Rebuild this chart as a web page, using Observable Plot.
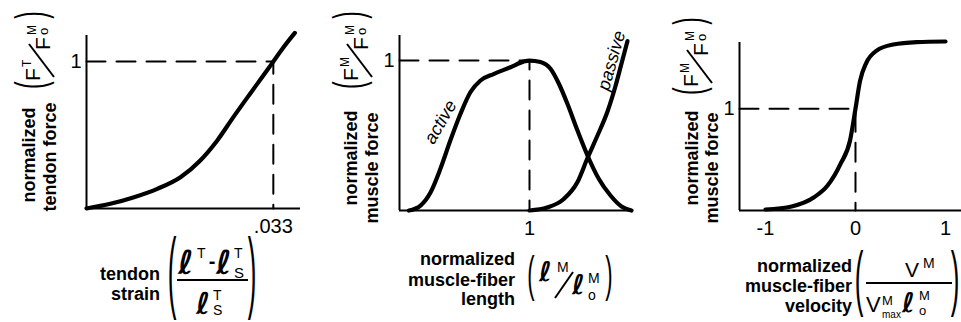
<!DOCTYPE html>
<html>
<head>
<meta charset="utf-8">
<script src="https://cdn.jsdelivr.net/npm/d3@7"></script>
<script src="https://cdn.jsdelivr.net/npm/@observablehq/plot@0.6"></script>
<style>
  body { margin: 0; background: #fff; }
  #fig { position: relative; width: 961px; height: 322px; overflow: hidden; }
  #fig svg { position: absolute; left: 0; top: 0; }
</style>
</head>
<body>
<div id="fig"></div>
<script>
// ---- Tendon force vs. tendon strain ----
const tendonStrain = [0, 0.0042, 0.0084, 0.0125, 0.0166, 0.0201, 0.0231, 0.026, 0.0289, 0.0319, 0.033, 0.0348, 0.0368];
const tendonForce  = [0, 0.032, 0.077, 0.134, 0.213, 0.327, 0.463, 0.625, 0.781, 0.94, 1.0, 1.097, 1.195];
const strainTicks = [0.033];
const strainTickLabels = [".033"];
const tendonForceTicks = [1];

// ---- Muscle force vs. normalized fiber length ----
const activeLength = [0.397, 0.455, 0.505, 0.555, 0.605, 0.655, 0.705, 0.755, 0.82, 0.905, 0.97, 1.0, 1.055, 1.105, 1.147, 1.19, 1.24, 1.29, 1.347, 1.405, 1.46, 1.51];
const activeForce  = [0, 0.033, 0.12, 0.28, 0.47, 0.645, 0.79, 0.867, 0.91, 0.955, 0.993, 1.0, 0.99, 0.945, 0.845, 0.71, 0.533, 0.367, 0.21, 0.1, 0.027, 0];
const passiveLength = [1.0, 1.088, 1.17, 1.24, 1.29, 1.34, 1.39, 1.43, 1.46, 1.49];
const passiveForce  = [0, 0.02, 0.075, 0.19, 0.35, 0.5, 0.66, 0.83, 0.98, 1.13];
const lengthTicks = [1];
const lengthForceTicks = [1];
const curveNames = ["active", "passive"];

// ---- Muscle force vs. normalized fiber velocity ----
const fiberVelocity = [-1.0, -0.71, -0.46, -0.31, -0.165, -0.06, 0, 0.05, 0.12, 0.235, 0.42, 0.68, 1.0];
const velocityForce = [0.01, 0.04, 0.13, 0.245, 0.46, 0.69, 1.0, 1.27, 1.45, 1.57, 1.63, 1.654, 1.66];
const velocityTicks = [-1, 0, 1];
const velocityForceTicks = [1];

const FONT = "'Liberation Sans', Arial, Helvetica, sans-serif";
const W = 961, H = 322;
const fig = document.getElementById("fig");
const pts = (xs, ys) => xs.map((x, i) => [x, ys[i]]);
const base = {
  width: W, height: H,
  style: { background: "transparent", overflow: "visible", fontFamily: FONT, fontSize: "20px", color: "#000" }
};
const dash = { stroke: "#000", strokeWidth: 2, strokeDasharray: "19,11" };
const axisRule = { stroke: "#000", strokeWidth: 2 };
const curve = { stroke: "#000", strokeWidth: 4.2, curve: "monotone-x" };

// Tendon panel
const tendonPlot = Plot.plot({
  ...base,
  marginLeft: 86, marginRight: W - 300, marginTop: 35, marginBottom: H - 208,
  x: { domain: [0, 0.0378], ticks: strainTicks, tickFormat: d => strainTickLabels[strainTicks.indexOf(d)], tickSize: 0, tickPadding: 10, label: null },
  y: { domain: [0, 1.177], ticks: tendonForceTicks, tickFormat: d => String(d), tickSize: 0, tickPadding: 5, label: null },
  marks: [
    Plot.line([[0, 1], [strainTicks[0], 1], [strainTicks[0], 0]], dash),
    Plot.ruleX([0], axisRule),
    Plot.ruleY([0], axisRule),
    Plot.line(pts(tendonStrain, tendonForce), curve)
  ]
});

// Force–length panel
const lengthPlot = Plot.plot({
  ...base,
  marginLeft: 399, marginRight: W - 633, marginTop: 35, marginBottom: H - 210,
  x: { domain: [0.35, 1.52], ticks: lengthTicks, tickFormat: d => String(d), tickSize: 0, tickPadding: 10, label: null },
  y: { domain: [0, 1.167], ticks: lengthForceTicks, tickFormat: d => String(d), tickSize: 0, tickPadding: 5, label: null },
  marks: [
    Plot.line([[0.35, 1], [1, 1], [1, 0]], dash),
    Plot.ruleX([0.35], axisRule),
    Plot.ruleY([0], axisRule),
    Plot.line(pts(activeLength, activeForce), curve),
    Plot.line(pts(passiveLength, passiveForce), curve),
    Plot.text([curveNames[0]], { x: 0.555, y: 0.59, text: d => d, rotate: -60, fontStyle: "italic", fontSize: 18 }),
    Plot.text([curveNames[1]], { x: 1.41, y: 1.0, text: d => d, rotate: -74, fontStyle: "italic", fontSize: 18 })
  ]
});

// Force–velocity panel
const velocityPlot = Plot.plot({
  ...base,
  marginLeft: 739, marginRight: 0, marginTop: 42, marginBottom: H - 210,
  x: { domain: [-1.289, 1.178], ticks: velocityTicks, tickFormat: d => String(d), tickSize: 0, tickPadding: 10, label: null },
  y: { domain: [0, 1.65], ticks: velocityForceTicks, tickFormat: d => String(d), tickSize: 0, tickPadding: 5, label: null },
  marks: [
    Plot.line([[-1.289, 1], [0, 1], [0, 0]], dash),
    Plot.ruleX([-1.289], axisRule),
    Plot.ruleY([0], axisRule),
    Plot.line(pts(fiberVelocity, velocityForce), curve)
  ]
});

fig.append(tendonPlot, lengthPlot, velocityPlot);

// ---- Axis titles and formulas ----
const ov = d3.select(fig).append("svg")
  .attr("width", W).attr("height", H)
  .style("font-family", FONT).style("overflow", "visible");

function txt(g, x, y, s, size, opts = {}) {
  return g.append("text")
    .attr("x", x).attr("y", y)
    .attr("font-size", size)
    .attr("font-weight", opts.weight || "normal")
    .attr("font-style", opts.style || "normal")
    .attr("font-family", opts.family || FONT)
    .attr("text-anchor", opts.anchor || "start")
    .text(s);
}
const ell = (g, x, y, size) => txt(g, x, y, "\u2113", size, { weight: "bold", style: "italic", family: "'DejaVu Sans', sans-serif" });
function paren(g, cx, cy, ch, size, sy) {
  g.append("text")
    .attr("transform", `translate(${cx},${cy}) scale(1,${sy})`)
    .attr("y", 0.26 * size)
    .attr("font-size", size)
    .attr("text-anchor", "middle")
    .attr("font-family", FONT)
    .text(ch);
}
function seg(g, x1, y1, x2, y2) {
  g.append("line").attr("x1", x1).attr("y1", y1).attr("x2", x2).attr("y2", y2)
    .attr("stroke", "#000").attr("stroke-width", 2);
}
function rotLabel(x, y, s) {
  ov.append("text")
    .attr("transform", `translate(${x},${y}) rotate(-90)`)
    .attr("text-anchor", "middle")
    .attr("font-size", 18).attr("font-weight", "bold")
    .text(s);
}
// (F^sup / F^M_o), written sideways beside a force axis
function forceRatio(cx, cy, sup) {
  const g = ov.append("g").attr("transform", `translate(${cx},${cy}) rotate(-90)`);
  paren(g, -35, 0, "(", 22, 1.9);
  paren(g, 35, 0, ")", 22, 1.9);
  txt(g, -31, 6, "F", 21);
  txt(g, -17, -3, sup, 12);
  seg(g, -27, 20, 6, -5);
  txt(g, 0, 16, "F", 21);
  txt(g, 15, 2, "M", 12);
  txt(g, 15, 14, "o", 13);
}

// Tendon panel titles
rotLabel(35, 155, "normalized");
rotLabel(56, 157, "tendon force");
forceRatio(34, 50, "T");
txt(ov, 160, 280, "tendon", 18, { weight: "bold", anchor: "end" });
txt(ov, 160, 300, "strain", 18, { weight: "bold", anchor: "end" });
{
  const g = ov.append("g");
  paren(g, 172, 278, "(", 26, 3.4);
  paren(g, 252, 278, ")", 26, 3.4);
  ell(g, 178, 274, 33);
  txt(g, 197, 258, "T", 14);
  txt(g, 212, 268, "-", 20, { weight: "bold", anchor: "middle" });
  ell(g, 216, 274, 33);
  txt(g, 234, 258, "T", 14);
  txt(g, 234, 278, "S", 15);
  seg(g, 177, 280, 248, 280);
  ell(g, 196, 314, 30);
  txt(g, 213, 300, "T", 14);
  txt(g, 213, 315, "S", 14);
}

// Force–length panel titles
rotLabel(357, 158, "normalized");
rotLabel(378, 168, "muscle force");
forceRatio(352, 50, "M");
txt(ov, 515, 265, "normalized", 18, { weight: "bold", anchor: "end" });
txt(ov, 515, 286, "muscle-fiber", 18, { weight: "bold", anchor: "end" });
txt(ov, 515, 305, "length", 18, { weight: "bold", anchor: "end" });
{
  const g = ov.append("g");
  paren(g, 531, 278, "(", 22, 2.3);
  paren(g, 609, 278, ")", 22, 2.3);
  ell(g, 539, 281, 27);
  txt(g, 557, 272, "M", 14);
  seg(g, 555, 298, 573, 272);
  ell(g, 572, 294, 27);
  txt(g, 588, 283, "M", 14);
  txt(g, 588, 300, "o", 14);
}

// Force–velocity panel titles
rotLabel(698, 158, "normalized");
rotLabel(718, 168, "muscle force");
forceRatio(692, 56, "M");
txt(ov, 852, 272, "normalized", 18, { weight: "bold", anchor: "end" });
txt(ov, 852, 292, "muscle-fiber", 18, { weight: "bold", anchor: "end" });
txt(ov, 852, 312, "velocity", 18, { weight: "bold", anchor: "end" });
{
  const g = ov.append("g");
  paren(g, 859, 283, "(", 26, 2.8);
  paren(g, 955, 283, ")", 26, 2.8);
  txt(g, 905, 277, "V", 21);
  txt(g, 923, 268, "M", 14);
  seg(g, 866, 283, 952, 283);
  txt(g, 866, 312, "V", 22);
  txt(g, 882, 305, "M", 13);
  txt(g, 882, 318, "max", 10);
  ell(g, 902, 312, 27);
  txt(g, 919, 300, "M", 13);
  txt(g, 919, 315, "o", 13);
}
</script>
</body>
</html>
